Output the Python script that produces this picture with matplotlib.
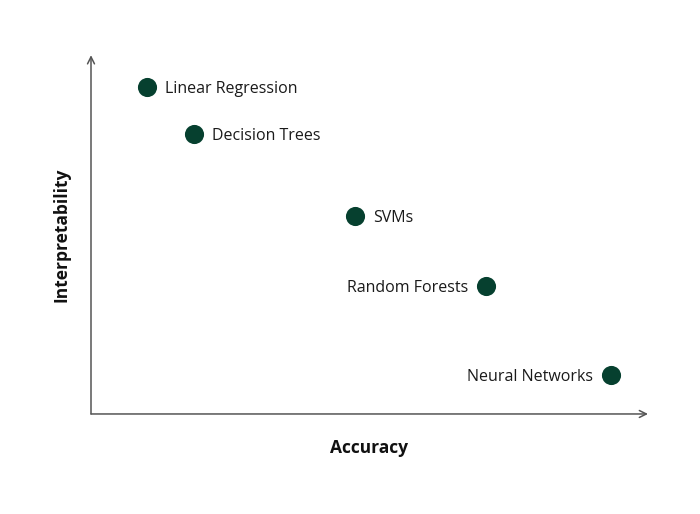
import matplotlib.pyplot as plt

# Datos
modelos = ["Linear Regression", "Decision Trees", "SVMs", "Random Forests", "Neural Networks"]
precision = [1.0, 1.85, 4.74, 7.09, 9.34]
interpretabilidad = [9.11, 7.8, 5.52, 3.57, 1.09]
lado = ["right", "right", "right", "left", "left"]

verde = "#06402f"
gris = "#555555"

fig = plt.figure(figsize=(7, 5.14), dpi=100)
ax = fig.add_axes([0.13, 0.1946, 0.7957, 0.698])
ax.set_xlim(0, 10)
ax.set_ylim(0, 10)

ax.scatter(precision, interpretabilidad, s=190, color=verde, zorder=3, linewidths=0)

for nombre, x, y, l in zip(modelos, precision, interpretabilidad, lado):
    dx = 13 if l == "right" else -13
    ha = "left" if l == "right" else "right"
    ax.annotate(nombre, (x, y), xytext=(dx, 0), textcoords="offset points",
                ha=ha, va="center_baseline", fontsize=11.5, color="#1a1a1a", family="Open Sans")

for s in ax.spines.values():
    s.set_visible(False)
ax.set_xticks([])
ax.set_yticks([])

# Ejes con flecha
flecha = dict(arrowstyle="->,head_length=0.5,head_width=0.25", color=gris, lw=1.1, shrinkA=0, shrinkB=0)
ax.annotate("", xy=(1.0, 0), xytext=(0, 0), xycoords="axes fraction", arrowprops=flecha)
ax.annotate("", xy=(0, 1.0), xytext=(0, 0), xycoords="axes fraction", arrowprops=flecha)

fig.text(369 / 700, 1 - 448 / 514, "Accuracy", ha="center", va="center",
         fontsize=12.5, fontweight="bold", family="Open Sans", color="#111111")
fig.text(61 / 700, 1 - 235 / 514, "Interpretability", ha="center", va="center",
         rotation=90, fontsize=12.5, fontweight="bold", family="Open Sans", color="#111111")

fig.savefig("out.png", dpi=100)
